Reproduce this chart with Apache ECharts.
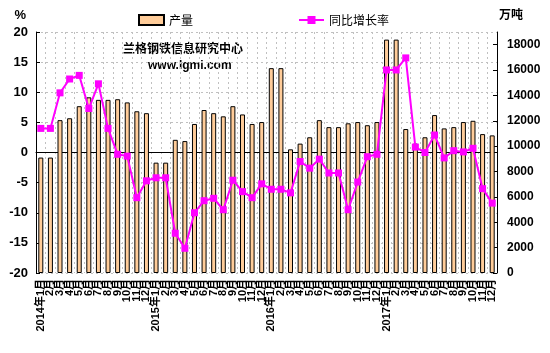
<!DOCTYPE html>
<html>
<head>
<meta charset="utf-8">
<script src="https://cdn.jsdelivr.net/npm/echarts@6/dist/echarts.min.js"></script>
<style>
  html, body { margin: 0; padding: 0; background: #fff; }
  #chart { width: 550px; height: 353px; }
</style>
</head>
<body>
<div id="chart"></div>
<script>
const years = ['2014', '2015', '2016', '2017']

const categories = []
years.forEach(y => {
  for (let m = 1; m <= 12; m++) {
    categories.push(m === 1 ? `${y}年${m}月` : `${m}月`)
  }
})

// 产量 (万吨)
const output = [
  9100, 9100, 12050, 12200, 13150, 13850, 13650, 13650, 13700, 13450, 12750, 12600,
  8700, 8700, 10500, 10400, 11750, 12850, 12600, 12350, 13150, 12500, 11750, 11900,
  16150, 16150, 9750, 10200, 10700, 12050, 11500, 11500, 11800, 11900, 11650, 11900,
  18400, 18400, 11350, 10200, 10700, 12450, 11400, 11500, 11900, 12000, 10950, 10850
]

// 同比增长率 (%)
const growth = [
  4.0, 4.0, 9.9, 12.2, 12.8, 7.3, 11.4, 4.0, -0.3, -0.6, -7.5, -4.7,
  -4.2, -4.2, -13.4, -15.9, -10.0, -8.0, -7.6, -9.5, -4.6, -6.5, -7.5, -5.2,
  -6.1, -6.1, -6.7, -1.5, -2.6, -1.1, -3.4, -3.4, -9.5, -4.9, -0.7, -0.3,
  13.7, 13.7, 15.7, 0.9, 0.0, 2.9, -0.9, 0.3, 0.1, 0.7, -6.0, -8.4
]

const chart = echarts.init(document.getElementById('chart'))

const boldText = { color: '#000', fontWeight: 'bold', fontFamily: 'Liberation Sans, Noto Sans CJK SC' }

const option = {
  animation: false,
  backgroundColor: '#fff',
  legend: {
    left: 133,
    top: 9,
    itemWidth: 25,
    itemHeight: 10,
    itemGap: 105,
    textStyle: { color: '#000', fontSize: 12, fontFamily: 'Noto Sans CJK SC' },
    data: [
      { name: '产量', icon: 'rect' },
      { name: '同比增长率' }
    ]
  },
  graphic: [
    {
      type: 'text',
      left: 123,
      top: 42,
      style: { text: '兰格钢铁信息研究中心', fill: '#000', font: 'bold 12px "Noto Sans CJK SC"' }
    },
    {
      type: 'text',
      left: 148,
      top: 60,
      style: { text: 'www.lgmi.com', fill: '#000', font: 'bold 12px "Liberation Sans"' }
    }
  ],
  grid: {
    left: 36,
    right: 53,
    top: 32,
    bottom: 80
  },
  xAxis: {
    type: 'category',
    data: categories,
    boundaryGap: true,
    axisLine: { lineStyle: { color: '#000' } },
    axisTick: { show: false },
    axisLabel: {
      interval: 0,
      rotate: 90,
      fontSize: 11,
      margin: 6,
      ...boldText
    },
    splitLine: {
      show: true,
      interval: 0,
      lineStyle: { color: '#c0c0c0', type: [2, 3] }
    }
  },
  yAxis: [
    {
      type: 'value',
      name: '%',
      nameGap: 10,
      nameTextStyle: { ...boldText, fontSize: 13, align: 'right', padding: [0, 10, 0, 0] },
      min: -20,
      max: 20,
      interval: 5,
      axisLine: { show: true, lineStyle: { color: '#000' } },
      axisTick: { show: true, inside: true, length: 4, lineStyle: { color: '#000' } },
      axisLabel: { ...boldText, fontSize: 13, margin: 8 },
      splitLine: { show: true, lineStyle: { color: '#c0c0c0', type: [2, 3] } }
    },
    {
      type: 'value',
      name: '万吨',
      nameGap: 10,
      nameTextStyle: { ...boldText, fontSize: 12, align: 'left', padding: [0, 0, 0, 2] },
      min: 0,
      max: 19000,
      interval: 2000,
      axisLine: { show: true, lineStyle: { color: '#000' } },
      axisTick: { show: true, inside: true, length: 4, lineStyle: { color: '#000' } },
      axisLabel: { ...boldText, fontSize: 12, margin: 10, showMaxLabel: false, formatter: v => String(v) },
      splitLine: { show: false }
    }
  ],
  series: [
    {
      name: '产量',
      type: 'bar',
      yAxisIndex: 1,
      data: output,
      barWidth: 5,
      itemStyle: {
        color: '#FFCC99',
        borderColor: '#000',
        borderWidth: 1
      }
    },
    {
      name: '同比增长率',
      type: 'line',
      yAxisIndex: 0,
      data: growth,
      symbol: 'rect',
      symbolSize: 7,
      lineStyle: { color: '#FF00FF', width: 2 },
      itemStyle: { color: '#FF00FF' }
    }
  ]
}

chart.setOption(option)
</script>
</body>
</html>
